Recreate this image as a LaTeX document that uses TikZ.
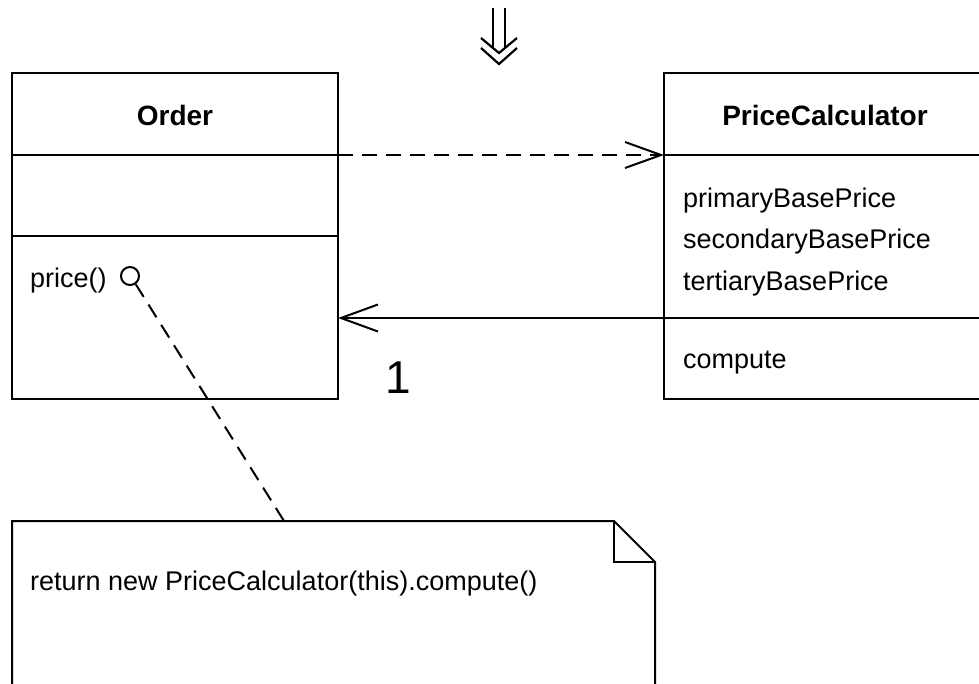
\documentclass[tikz,border=0pt]{standalone}
\usepackage{fontspec}
\setmainfont{Liberation Sans}
\usetikzlibrary{arrows.meta}
\tikzset{
  box/.style={draw, line width=2pt, inner sep=0pt, rectangle},
  divider/.style={line width=2pt},
  txt/.style={inner sep=0pt, anchor=base west, font=\fontsize{27}{32}\selectfont},
  title/.style={inner sep=0pt, anchor=base, font=\fontsize{28}{33}\selectfont\bfseries},
  dep/.style={line width=2pt, dash pattern=on 15pt off 9pt, -{Straight Barb[length=36pt,width=26pt,line width=2pt]}},
  assoc/.style={line width=2pt, -{Straight Barb[length=37pt,width=27pt,line width=2pt]}},
  notelink/.style={line width=2pt, dash pattern=on 15pt off 9pt},
  glyph/.style={line width=2.2pt}
}
\begin{document}
\begin{tikzpicture}[x=1pt,y=-1pt]
\useasboundingbox (0,0) rectangle (979,683);
\clip (0,0) rectangle (979,683);
\fill[white] (0,0) rectangle (979,683);

% double down arrow
\coordinate (g1) at (493,8);
\coordinate (g2) at (493,47);
\coordinate (g3) at (505,8);
\coordinate (g4) at (505,47);
\draw[glyph] (g1) -- (g2) (g3) -- (g4);
\draw[glyph] (481,38) -- (499,53) -- (517,38);
\draw[glyph] (481,48) -- (499,64) -- (517,48);

% Order class
\node[box, minimum width=326pt, minimum height=326pt] (order) at (175,236) {};
\coordinate (o1w) at (12,155);  \coordinate (o1e) at (338,155);
\coordinate (o2w) at (12,236);  \coordinate (o2e) at (338,236);
\draw[divider] (o1w) -- (o1e);
\draw[divider] (o2w) -- (o2e);
\node[title] (ordertitle) at (175,125) {Order};
\node[txt] (price) at (30,287) {price()};
\node[draw, circle, line width=2pt, minimum size=18pt, inner sep=0pt] (pc) at (130,276) {};

% PriceCalculator class
\node[box, minimum width=360pt, minimum height=326pt] (calc) at (844,236) {};
\coordinate (c1w) at (664,155);  \coordinate (c1e) at (1024,155);
\coordinate (c2w) at (664,318);  \coordinate (c2e) at (1024,318);
\draw[divider] (c1w) -- (c1e);
\draw[divider] (c2w) -- (c2e);
\node[title] (calctitle) at (825,125) {PriceCalculator};
\node[txt] (a1) at (683,207) {primaryBasePrice};
\node[txt] (a2) at (683,248) {secondaryBasePrice};
\node[txt] (a3) at (683,290) {tertiaryBasePrice};
\node[txt] (op) at (683,368) {compute};

% connectors
\draw[dep] (o1e) -- (c1w);
\coordinate (ae) at (338,318);
\draw[assoc] (c2w) -- (ae);
\node[inner sep=0pt, anchor=base, font=\fontsize{46}{50}\selectfont] (mult) at (398,393) {1};

% note
\coordinate (n1) at (12,521);
\coordinate (n2) at (614,521);
\coordinate (n3) at (655,562);
\coordinate (n4) at (655,720);
\coordinate (n5) at (12,720);
\draw[line width=2pt, line join=miter] (n5) -- (n1) -- (n2) -- (n3) -- (n4);
\draw[line width=2pt] (n2) -- (614,562) -- (n3);
\coordinate (nt) at (284,521);
\node[txt] (notetext) at (30,590) {return new PriceCalculator(this).compute()};
\draw[notelink] (pc.-55) -- (nt);
\end{tikzpicture}
\end{document}
